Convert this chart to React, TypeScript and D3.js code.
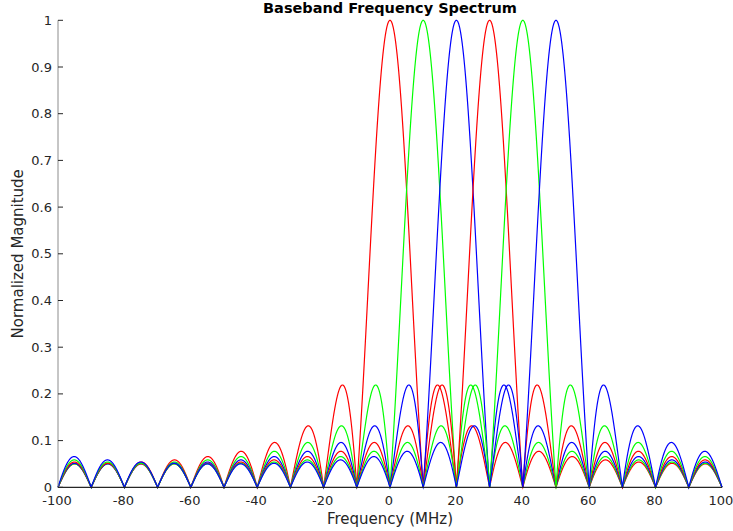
import { useEffect, useRef } from "react";
import * as d3 from "d3";

// carrier centre frequencies (MHz) and their colours, in plot order
const CARRIERS = [0, 10, 20, 30, 40, 50];
const COLORS = ["#ff0000", "#00ff00", "#0000ff", "#ff0000", "#00ff00", "#0000ff"];
// sampled pulse: 20 samples at 200 MHz -> nulls every 10 MHz
const SAMPLES = 20;
const FS = 200;
const X_TICKS = [-100, -80, -60, -40, -20, 0, 20, 40, 60, 80, 100];
const Y_TICKS = [0, 0.1, 0.2, 0.3, 0.4, 0.5, 0.6, 0.7, 0.8, 0.9, 1];

const W = 733;
const H = 531;
const FONT = "'DejaVu Sans', sans-serif";

function magnitude(f: number, fc: number) {
  const a = (Math.PI * (f - fc)) / FS;
  const den = SAMPLES * Math.sin(a);
  if (Math.abs(den) < 1e-9) return 1;
  return Math.abs(Math.sin(SAMPLES * a) / den);
}

export default function App() {
  const ref = useRef<SVGSVGElement | null>(null);

  useEffect(() => {
    const svg = d3.select(ref.current);
    svg.selectAll("*").remove();

    const x = d3.scaleLinear().domain([-100, 100]).range([58, 722]);
    const y = d3.scaleLinear().domain([0, 1]).range([487.3, 20.3]);

    const freqs = d3.range(-100, 100.0001, 0.05);

    CARRIERS.forEach((fc, k) => {
      const l = d3
        .line<number>()
        .x((f) => x(f))
        .y((f) => y(magnitude(f, fc)));
      svg
        .append("path")
        .datum(freqs)
        .attr("fill", "none")
        .attr("stroke", COLORS[k])
        .attr("stroke-width", 1.2)
        .attr("d", l);
    });

    // y axis: grey spine, ticks pointing in
    const yAxis = svg.append("g").attr("transform", `translate(${x(-100)},0)`);
    yAxis
      .append("line")
      .attr("x1", 0)
      .attr("x2", 0)
      .attr("y1", y(1))
      .attr("y2", y(0))
      .attr("stroke", "#8c8c8c")
      .attr("stroke-width", 1);
    Y_TICKS.forEach((t) => {
      yAxis
        .append("line")
        .attr("x1", 0)
        .attr("x2", 5)
        .attr("y1", y(t))
        .attr("y2", y(t))
        .attr("stroke", "#262626");
      yAxis
        .append("text")
        .attr("x", -6)
        .attr("y", y(t))
        .attr("dy", "0.35em")
        .attr("text-anchor", "end")
        .attr("font-family", FONT)
        .attr("font-size", 13)
        .attr("fill", "#262626")
        .text(String(t));
    });

    // x axis
    const xAxis = svg.append("g");
    xAxis
      .append("line")
      .attr("x1", x(-100))
      .attr("x2", x(100))
      .attr("y1", y(0))
      .attr("y2", y(0))
      .attr("stroke", "#262626")
      .attr("stroke-width", 1.2);
    X_TICKS.forEach((t) => {
      xAxis
        .append("text")
        .attr("x", x(t) - 1)
        .attr("y", 505)
        .attr("text-anchor", "middle")
        .attr("font-family", FONT)
        .attr("font-size", 13)
        .attr("fill", "#262626")
        .text(String(t));
    });

    svg
      .append("text")
      .attr("x", (x(-100) + x(100)) / 2)
      .attr("y", 524)
      .attr("text-anchor", "middle")
      .attr("font-family", FONT)
      .attr("font-size", 15)
      .attr("fill", "#262626")
      .text("Frequency (MHz)");

    svg
      .append("text")
      .attr("transform", `translate(23,${(y(0) + y(1)) / 2}) rotate(-90)`)
      .attr("text-anchor", "middle")
      .attr("font-family", FONT)
      .attr("font-size", 15)
      .attr("fill", "#262626")
      .text("Normalized Magnitude");

    svg
      .append("text")
      .attr("x", (x(-100) + x(100)) / 2)
      .attr("y", 13)
      .attr("text-anchor", "middle")
      .attr("font-family", FONT)
      .attr("font-size", 14.5)
      .attr("font-weight", "bold")
      .attr("fill", "#000")
      .text("Baseband Frequency Spectrum");
  }, []);

  return (
    <svg
      ref={ref}
      width={W}
      height={H}
      style={{ position: "absolute", left: 0, top: 0, background: "#fff" }}
    />
  );
}
